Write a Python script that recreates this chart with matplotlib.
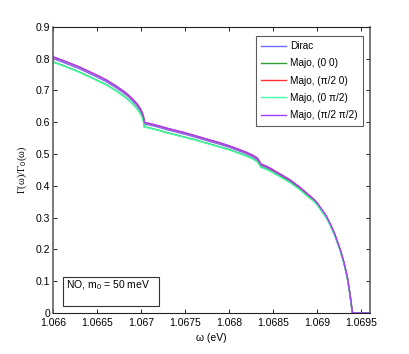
import matplotlib
matplotlib.use("Agg")
import matplotlib.pyplot as plt
from matplotlib.patches import Rectangle

plt.rcParams['font.family'] = ['Liberation Sans', 'DejaVu Sans']
plt.rcParams['mathtext.fontset'] = 'custom'
plt.rcParams['mathtext.rm'] = 'Liberation Sans'
plt.rcParams['mathtext.it'] = 'Liberation Sans'

omega = [1.0660, 1.0661, 1.0662, 1.0663, 1.0664, 1.0665, 1.0666, 1.0667, 1.0668, 1.06685,
         1.0669, 1.06695, 1.06699, 1.06701, 1.06702, 1.06703, 1.067034,
         1.0671, 1.0672, 1.0673, 1.0674, 1.0675, 1.0676, 1.0677, 1.0678, 1.0679,
         1.0680, 1.0681, 1.0682, 1.06827, 1.06832, 1.06836,
         1.06842, 1.06847, 1.06858, 1.06869, 1.0688, 1.06888, 1.06896, 1.0690, 1.0691,
         1.06915, 1.0692, 1.06926, 1.0693, 1.06934, 1.06937, 1.06939, 1.06940, 1.0696]

dirac = [0.800, 0.790, 0.779, 0.768, 0.755, 0.742, 0.728, 0.711, 0.692, 0.681,
         0.668, 0.653, 0.637, 0.625, 0.618, 0.607, 0.594,
         0.591, 0.584, 0.576, 0.569, 0.562, 0.554, 0.546, 0.538, 0.530,
         0.521, 0.511, 0.500, 0.491, 0.482, 0.464,
         0.458, 0.451, 0.433, 0.415, 0.392, 0.373, 0.354, 0.342, 0.303,
         0.276, 0.244, 0.198, 0.160, 0.113, 0.060, 0.018, 0.0, 0.0]
majo_00 = [0.790, 0.780, 0.769, 0.758, 0.745, 0.732, 0.719, 0.702, 0.683, 0.672,
           0.659, 0.644, 0.628, 0.616, 0.609, 0.598, 0.586,
           0.582, 0.575, 0.567, 0.560, 0.553, 0.546, 0.538, 0.530, 0.522,
           0.514, 0.504, 0.494, 0.485, 0.476, 0.459,
           0.453, 0.446, 0.429, 0.411, 0.389, 0.370, 0.352, 0.340, 0.301,
           0.275, 0.243, 0.197, 0.159, 0.112, 0.059, 0.017, 0.0, 0.0]
majo_p0 = [0.805, 0.795, 0.784, 0.773, 0.760, 0.747, 0.733, 0.716, 0.697, 0.686,
           0.673, 0.658, 0.642, 0.630, 0.623, 0.612, 0.599,
           0.595, 0.588, 0.580, 0.573, 0.566, 0.558, 0.550, 0.542, 0.534,
           0.525, 0.515, 0.504, 0.495, 0.486, 0.468,
           0.461, 0.454, 0.436, 0.418, 0.395, 0.376, 0.357, 0.345, 0.305,
           0.278, 0.246, 0.199, 0.161, 0.114, 0.061, 0.019, 0.0, 0.0]
majo_0p = [0.789, 0.779, 0.768, 0.757, 0.744, 0.731, 0.718, 0.701, 0.682, 0.671,
           0.658, 0.643, 0.627, 0.615, 0.608, 0.597, 0.585,
           0.581, 0.574, 0.566, 0.559, 0.552, 0.545, 0.537, 0.529, 0.521,
           0.513, 0.503, 0.493, 0.484, 0.475, 0.458,
           0.452, 0.445, 0.428, 0.410, 0.388, 0.369, 0.351, 0.339, 0.300,
           0.274, 0.242, 0.196, 0.158, 0.111, 0.058, 0.017, 0.0, 0.0]
majo_pp = [0.806, 0.796, 0.785, 0.774, 0.761, 0.748, 0.734, 0.717, 0.698, 0.687,
           0.674, 0.659, 0.643, 0.631, 0.624, 0.613, 0.600,
           0.596, 0.589, 0.581, 0.574, 0.567, 0.559, 0.551, 0.543, 0.535,
           0.526, 0.516, 0.505, 0.496, 0.487, 0.469,
           0.462, 0.455, 0.437, 0.419, 0.396, 0.377, 0.358, 0.346, 0.306,
           0.279, 0.247, 0.200, 0.162, 0.115, 0.062, 0.019, 0.0, 0.0]

labels = ['Dirac', 'Majo, (0 0)', 'Majo, (\u03c0/2 0)', 'Majo, (0 \u03c0/2)', 'Majo, (\u03c0/2 \u03c0/2)']
colors = ['#7070ff', '#30a030', '#ff3030', '#40ffa8', '#a040ff']
series = [dirac, majo_00, majo_p0, majo_0p, majo_pp]

xticks = [1.066, 1.0665, 1.067, 1.0675, 1.068, 1.0685, 1.069, 1.0695]
xticklabels = ['1.066', '1.0665', '1.067', '1.0675', '1.068', '1.0685', '1.069', '1.0695']
yticks = [0, 0.1, 0.2, 0.3, 0.4, 0.5, 0.6, 0.7, 0.8, 0.9]
yticklabels = ['0', '0.1', '0.2', '0.3', '0.4', '0.5', '0.6', '0.7', '0.8', '0.9']

fig = plt.figure(figsize=(4.09, 3.54), dpi=100)
ax = fig.add_axes([0.130, 0.116, 0.775, 0.808])

for y, c, l in zip(series, colors, labels):
    ax.plot(omega, y, color=c, lw=1.0, label=l)

ax.set_xlim(1.066, 1.0696)
ax.set_ylim(0, 0.9)
ax.set_xticks(xticks)
ax.set_xticklabels(xticklabels)
ax.set_yticks(yticks)
ax.set_yticklabels(yticklabels)
ax.tick_params(direction='in', length=3, width=0.6, labelsize=7.5, top=True, right=True)
ax.tick_params(axis='x', pad=4)
ax.tick_params(axis='y', pad=2)
for name, s in ax.spines.items():
    if name in ('left', 'right'):
        s.set_linewidth(1.1)
        s.set_color('#555555')
    else:
        s.set_linewidth(0.8)
        s.set_color('#222222')

ax.set_xlabel('\u03c9 (eV)', fontsize=7.5, labelpad=3)
ax.set_ylabel('\u0393(\u03c9)/\u0393$_0$(\u03c9)', fontsize=7.5, labelpad=5,
              family=['Liberation Serif', 'DejaVu Serif'])

leg = ax.legend(loc='upper right', bbox_to_anchor=(0.978, 0.969), fontsize=7.2, frameon=True,
                fancybox=False, handlelength=2.5, borderpad=0.55, labelspacing=0.72,
                handletextpad=0.4, borderaxespad=0)
leg.get_frame().set_edgecolor('#333333')
leg.get_frame().set_linewidth(0.8)

ax.add_patch(Rectangle((0.031, 0.024), 0.304, 0.103, transform=ax.transAxes,
                       facecolor='white', edgecolor='#333333', lw=0.8, zorder=5))
ax.text(0.040, 0.098, 'NO, m$_0$ = 50 meV', transform=ax.transAxes, fontsize=7.5,
        va='center', ha='left', zorder=6)

fig.savefig('out.png', dpi=100)
